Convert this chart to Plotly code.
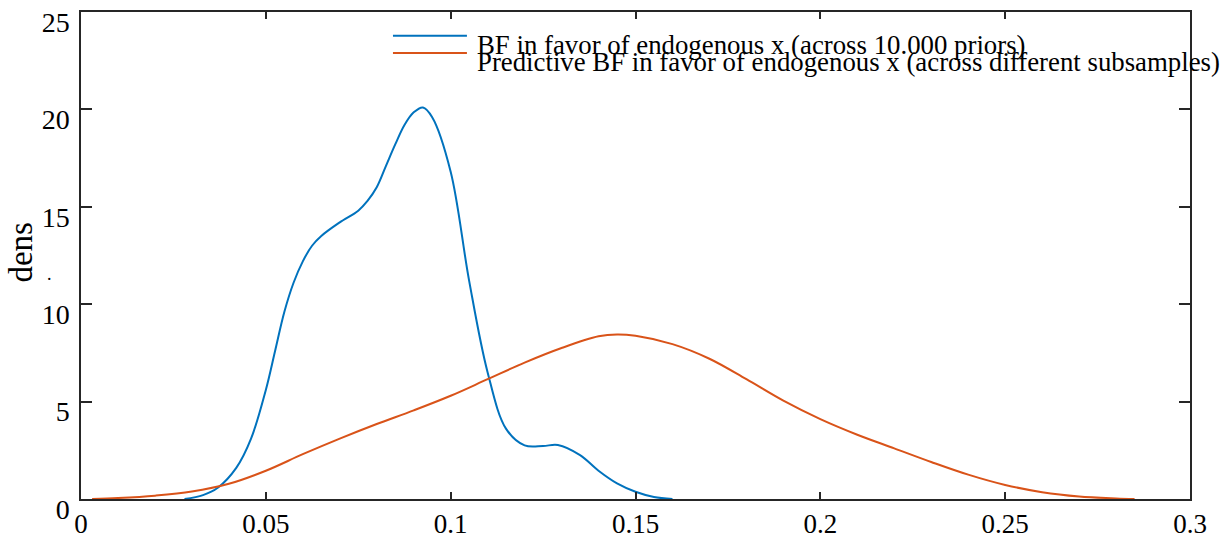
import plotly.graph_objects as go

# Kernel density estimates of the Bayes factor
bf_x = [0.028, 0.033, 0.037, 0.042, 0.046, 0.05, 0.0525, 0.055, 0.0575, 0.06, 0.0625,
        0.065, 0.07, 0.075, 0.0775, 0.08, 0.0825, 0.085, 0.0875, 0.09, 0.0925, 0.095,
        0.1, 0.105, 0.11, 0.115, 0.12, 0.125, 0.129, 0.135, 0.14, 0.145, 0.15,
        0.155, 0.16]
bf_y = [0.0, 0.2, 0.58, 1.6, 3.1, 5.6, 7.6, 9.6, 11.1, 12.2, 13.0,
        13.5, 14.2, 14.8, 15.3, 16.0, 17.1, 18.2, 19.2, 19.85, 20.1, 19.6,
        16.8, 11.2, 6.5, 3.6, 2.75, 2.72, 2.77, 2.25, 1.45, 0.8, 0.37,
        0.1, 0.0]

pbf_x = [0.003, 0.01, 0.02, 0.03, 0.04, 0.05, 0.06, 0.07, 0.08, 0.09,
         0.1, 0.11, 0.12, 0.13, 0.14, 0.145, 0.15, 0.16, 0.17, 0.18, 0.19, 0.2,
         0.21, 0.22, 0.23, 0.24, 0.25, 0.26, 0.27, 0.28, 0.285]
pbf_y = [0.0, 0.05, 0.17, 0.38, 0.78, 1.45, 2.3, 3.1, 3.85, 4.55,
         5.3, 6.15, 7.0, 7.75, 8.35, 8.45, 8.38, 7.95, 7.2, 6.15, 5.05, 4.1,
         3.3, 2.6, 1.9, 1.25, 0.72, 0.35, 0.13, 0.03, 0.0]

names = ["BF in favor of endogenous x (across 10.000 priors)",
         "Predictive BF in favor of endogenous x (across different subsamples)"]
colors = ["#0072BD", "#D95319"]

x_ticks = [0, 0.05, 0.1, 0.15, 0.2, 0.25, 0.3]
x_ticktext = ["0", "0.05", "0.1", "0.15", "0.2", "0.25", "0.3"]
y_ticks = [0, 5, 10, 15, 20, 25]

FONT = "Liberation Serif, Times New Roman, serif"
AX = "#262626"

fig = go.Figure()
for xs, ys, c, n in [(bf_x, bf_y, colors[0], names[0]), (pbf_x, pbf_y, colors[1], names[1])]:
    fig.add_trace(go.Scatter(x=xs, y=ys, mode="lines", name=n,
                             line=dict(color=c, width=2, shape="spline", smoothing=1.0),
                             showlegend=False))

# Legend drawn as line samples with text
leg_y = [0.951, 0.916]
for i in range(2):
    fig.add_shape(type="line", xref="paper", yref="paper",
                  x0=0.2813, x1=0.348, y0=leg_y[i], y1=leg_y[i],
                  line=dict(color=colors[i], width=2))
    fig.add_annotation(xref="paper", yref="paper", x=0.3553, y=leg_y[i] - 0.018,
                       text=names[i], showarrow=False, xanchor="left", yanchor="middle",
                       font=dict(family=FONT, size=26.8, color="#000000"))

fig.add_annotation(xref="paper", yref="paper", x=-0.0541, y=0.506, text="dens",
                   textangle=-90, showarrow=False, xanchor="center", yanchor="middle",
                   font=dict(family=FONT, size=33, color="#000000"))
fig.add_annotation(xref="paper", yref="paper", x=-0.0285, y=0.462, text=".",
                   showarrow=False, xanchor="center", yanchor="middle",
                   font=dict(family=FONT, size=18, color="#000000"))

fig.update_xaxes(range=[0, 0.3], tickvals=x_ticks, ticktext=x_ticktext,
                 showline=True, linecolor=AX, linewidth=1.5, mirror="ticks",
                 ticks="inside", ticklen=7, tickwidth=1.5, tickcolor=AX,
                 showgrid=False, zeroline=False, automargin=False,
                 ticklabeloverflow="allow",
                 tickfont=dict(family=FONT, size=27, color="#000000"))
fig.update_yaxes(range=[0, 25], tickvals=y_ticks,
                 showline=True, linecolor=AX, linewidth=1.5, mirror="ticks",
                 ticks="inside", ticklen=11, tickwidth=1.5, tickcolor=AX,
                 showgrid=False, zeroline=False, ticklabelshift=10,
                 ticklabelstandoff=4, automargin=False,
                 ticklabeloverflow="allow",
                 tickfont=dict(family=FONT, size=28, color="#000000"))

fig.update_layout(width=1229, height=535, plot_bgcolor="white", paper_bgcolor="white",
                  margin=dict(l=81, r=39, t=12, b=36), showlegend=False)

fig.write_html("out.html")
